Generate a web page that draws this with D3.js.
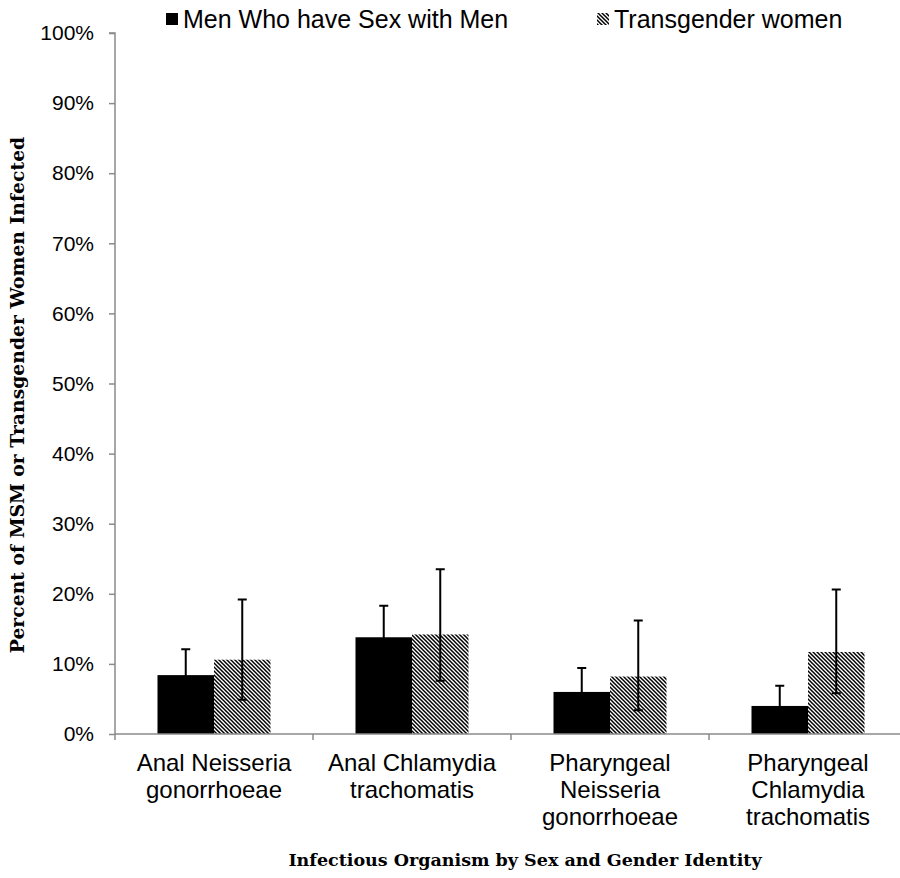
<!DOCTYPE html>
<html>
<head>
<meta charset="utf-8">
<script src="https://cdn.jsdelivr.net/npm/d3@7"></script>
<style>
  body { margin: 0; background: #fff; }
  svg { display: block; }
</style>
</head>
<body>
<div id="chart"></div>
<script>
// values (fractions)
const categories = [
    ['Anal Neisseria', 'gonorrhoeae'],
    ['Anal Chlamydia', 'trachomatis'],
    ['Pharyngeal', 'Neisseria', 'gonorrhoeae'],
    ['Pharyngeal', 'Chlamydia', 'trachomatis']
];
const seriesNames = ['Men Who have Sex with Men', 'Transgender women'];
const msmValues = [0.084, 0.138, 0.060, 0.040];
const msmUpper = [0.121, 0.183, 0.094, 0.069];
const msmLower = [0.056, 0.100, 0.037, 0.021];
const twValues = [0.106, 0.142, 0.082, 0.117];
const twUpper = [0.192, 0.235, 0.162, 0.206];
const twLower = [0.049, 0.076, 0.034, 0.058];
const yTicks = [0, 0.1, 0.2, 0.3, 0.4, 0.5, 0.6, 0.7, 0.8, 0.9, 1.0];

const width = 900;
const height = 878;
const axisColor = '#8a8a8a';
const sansFont = '"Liberation Sans", Arial, sans-serif';
const serifFont = '"DejaVu Serif", "Liberation Serif", serif';

const svg = d3.select('#chart')
    .append('svg')
    .attr('width', width)
    .attr('height', height);

// hatch for the transgender women bars
const defs = svg.append('defs');
defs.append('pattern')
    .attr('id', 'hatch')
    .attr('patternUnits', 'userSpaceOnUse')
    .attr('width', 4)
    .attr('height', 4)
    .call(p => {
        p.append('rect').attr('width', 4).attr('height', 4).attr('fill', '#fff');
        p.append('path')
            .attr('d', 'M-1,-1 L5,5 M-1,3 L1,5 M3,-1 L5,1')
            .attr('stroke', '#000')
            .attr('stroke-width', 1.5);
    });

const catKeys = categories.map(c => c.join(' '));
const x0 = d3.scaleBand()
    .domain(catKeys)
    .range([115, 907])
    .paddingInner(0)
    .paddingOuter(0);

const x1 = d3.scaleBand()
    .domain(seriesNames)
    .range([0, x0.bandwidth()])
    .paddingInner(0)
    .paddingOuter(0.752);

const y = d3.scaleLinear()
    .domain([0, 1])
    .range([734, 33]);

// y axis
const yAxis = svg.append('g')
    .attr('transform', 'translate(115,0)')
    .call(d3.axisLeft(y).tickValues(yTicks).tickFormat(d3.format('.0%')).tickSize(6).tickPadding(15));
yAxis.select('.domain').attr('stroke', axisColor).attr('stroke-width', 1.5)
    .attr('d', `M-6,${y(1)}H0V${y(0) + 6}`);
yAxis.selectAll('.tick line').attr('stroke', axisColor).attr('stroke-width', 1.5);
yAxis.selectAll('.tick text')
    .attr('font-family', sansFont)
    .attr('font-size', '21px')
    .attr('fill', '#000');

// bars
const series = [
    {name: seriesNames[0], values: msmValues, upper: msmUpper, lower: msmLower, fill: '#000'},
    {name: seriesNames[1], values: twValues, upper: twUpper, lower: twLower, fill: 'url(#hatch)'}
];

const groups = svg.append('g').selectAll('g')
    .data(catKeys)
    .join('g')
    .attr('transform', d => `translate(${x0(d)},0)`);

groups.each(function(cat, ci) {
    const g = d3.select(this);
    series.forEach(s => {
        g.append('rect')
            .attr('x', x1(s.name))
            .attr('y', y(s.values[ci]))
            .attr('width', x1.bandwidth())
            .attr('height', y(0) - y(s.values[ci]))
            .attr('fill', s.fill);
    });
    // error bars drawn on top
    series.forEach(s => {
        const cx = x1(s.name) + x1.bandwidth() / 2;
        g.append('path')
            .attr('d', `M${cx},${y(s.lower[ci])}V${y(s.upper[ci])}M${cx - 4.5},${y(s.upper[ci])}H${cx + 4.5}M${cx - 4.5},${y(s.lower[ci])}H${cx + 4.5}`)
            .attr('stroke', '#000')
            .attr('stroke-width', 2)
            .attr('fill', 'none');
    });
});

// x axis
const xAxis = svg.append('g')
    .attr('transform', `translate(0,${y(0)})`);
xAxis.append('path')
    .attr('d', `M115,0H${width}`)
    .attr('stroke', axisColor)
    .attr('stroke-width', 1.5);
xAxis.selectAll('line.tick')
    .data(catKeys.slice(1))
    .join('line')
    .attr('class', 'tick')
    .attr('x1', d => x0(d)).attr('x2', d => x0(d))
    .attr('y1', 0).attr('y2', 6)
    .attr('stroke', axisColor)
    .attr('stroke-width', 1.5);

// category labels
svg.append('g').selectAll('text')
    .data(categories)
    .join('text')
    .attr('font-family', sansFont)
    .attr('font-size', '24px')
    .attr('text-anchor', 'middle')
    .attr('fill', '#000')
    .each(function(lines, i) {
        const t = d3.select(this);
        const cx = x0(catKeys[i]) + x0.bandwidth() / 2;
        lines.forEach((line, li) => {
            t.append('tspan')
                .attr('x', cx)
                .attr('y', 771 + li * 27)
                .text(line);
        });
    });

// axis titles
svg.append('text')
    .attr('x', 525)
    .attr('y', 866)
    .attr('text-anchor', 'middle')
    .attr('font-family', serifFont)
    .attr('font-weight', 'bold')
    .attr('font-size', '17.5px')
    .attr('fill', '#000')
    .text('Infectious Organism by Sex and Gender Identity');

svg.append('text')
    .attr('transform', 'translate(24,395) rotate(-90)')
    .attr('text-anchor', 'middle')
    .attr('font-family', serifFont)
    .attr('font-weight', 'bold')
    .attr('font-size', '18.8px')
    .attr('fill', '#000')
    .text('Percent of MSM or Transgender Women Infected');

// legend
const legendX = [166, 597];
const legend = svg.append('g').selectAll('g')
    .data(series)
    .join('g')
    .attr('transform', (d, i) => `translate(${legendX[i]},0)`);
legend.append('rect')
    .attr('x', 0)
    .attr('y', 13)
    .attr('width', 12)
    .attr('height', 12)
    .attr('fill', d => d.fill);
legend.append('text')
    .attr('x', 17)
    .attr('y', 28)
    .attr('font-family', sansFont)
    .attr('font-size', '25px')
    .attr('fill', '#000')
    .text(d => d.name);
</script>
</body>
</html>
